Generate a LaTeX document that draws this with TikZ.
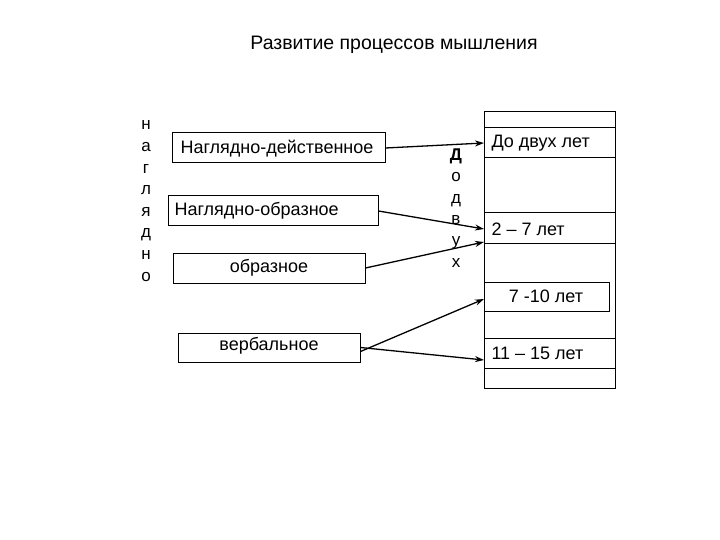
\documentclass[tikz,border=0pt]{standalone}
\usepackage{fontspec}
\setmainfont{Liberation Sans}
\usetikzlibrary{arrows.meta}
\begin{document}
\begin{tikzpicture}[x=1pt,y=-1pt,
 box/.style={draw,line width=1pt,inner sep=0pt},
 lbl/.style={font=\fontsize{18}{20}\selectfont},
 arr/.style={-{Stealth[length=9pt,width=6pt]},line width=1.3pt}]
\useasboundingbox (0,0) rectangle (720,540);
\node[font=\fontsize{19.5}{22}\selectfont] (title) at (394,45) {Развитие процессов мышления};
\node[align=center,font=\fontsize{17}{21.6}\selectfont] (nagl) at (146,201) {н\\а\\г\\л\\я\\д\\н\\о};
\node[align=center,font=\fontsize{17}{21.4}\selectfont] (dodvuh) at (456,208) {\textbf{Д}\\о\\д\\в\\у\\х};
% left boxes
\node[box,minimum width=213pt,minimum height=30pt] (b1) at (278.5,148) {};
\node[lbl] at (277,149) {Наглядно-действенное};
\node[box,minimum width=210pt,minimum height=30pt] (b2) at (273,211) {};
\node[lbl,anchor=west] at (171,211) {Наглядно-образное};
\node[box,minimum width=192pt,minimum height=30pt] (b3) at (269,268) {};
\node[lbl] at (269,268) {образное};
\node[box,minimum width=182pt,minimum height=29pt] (b4) at (269,347.5) {};
\node[lbl] at (269,346) {вербальное};
% right column
\draw[line width=1pt] (484,112) rectangle (615,388);
\foreach \yy in {128,158,213,243,338,368} \draw[line width=1pt] (484,\yy) -- (615,\yy);
\node[box,minimum width=125pt,minimum height=29pt,fill=white] (r3) at (546.5,296.5) {};
\node[lbl] at (546,296) {7 -10 лет};
\node[lbl,anchor=west] (r1) at (488,143) {До двух лет};
\node[lbl,anchor=west] (r2) at (488,229) {2 – 7 лет};
\node[lbl,anchor=west] (r4) at (488,353) {11 – 15 лет};
\coordinate (e1) at (484,143);
\coordinate (e2) at (484,229);
\coordinate (e3) at (484,242);
\coordinate (e4) at (484,299);
\coordinate (e5) at (484,360);
\draw[arr] (b1.east) -- (e1);
\draw[arr] (b2.east) -- (e2);
\draw[arr] (b3.east) -- (e3);
\draw[arr] ([yshift=-4pt]b4.east) -- (e4);
\draw[arr] (b4.east) -- (e5);
\end{tikzpicture}
\end{document}
